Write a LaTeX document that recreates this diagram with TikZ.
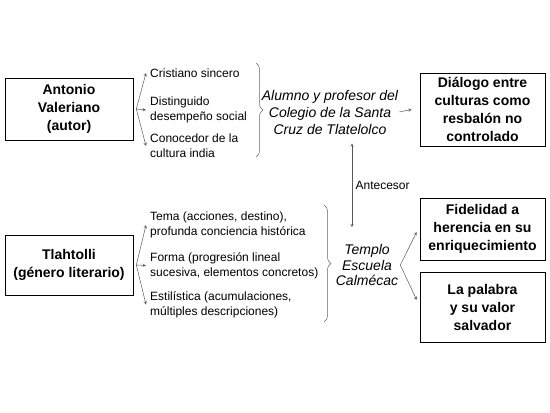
\documentclass[tikz,border=0pt]{standalone}
\usepackage{fontspec}
\setmainfont{Liberation Sans}
\usetikzlibrary{decorations.pathreplacing}

\tikzset{
  caja/.style={draw, line width=0.6pt, align=center, inner sep=0pt,
    minimum width=125pt, font=\fontsize{14}{18}\selectfont\bfseries},
  item/.style={anchor=west, align=left, inner sep=1pt,
    font=\fontsize{12}{15}\selectfont},
  nota/.style={align=center, inner sep=1pt,
    font=\fontsize{14}{17}\selectfont\itshape},
  flecha/.style={->, draw=black!65, line width=0.5pt},
  llave/.style={decorate, decoration={brace, amplitude=7pt}, draw=black!60, line width=0.5pt}
}

\begin{document}
\begin{tikzpicture}[x=1pt, y=-1pt, >=stealth]
        \useasboundingbox (0,0) rectangle (550,413);

        % Boxes
        \node[caja, minimum width=128pt, minimum height=62pt] (antonio) at (69,109) {Antonio\\Valeriano\\(autor)};
        \node[caja, minimum width=128pt, minimum height=60pt] (tlahtolli) at (69,265) {Tlahtolli\\(género literario)};
        \node[caja, minimum height=73pt] (dialogo) at (482.5,109.5) {Diálogo entre\\culturas como\\resbalón no\\controlado};
        \node[caja, minimum height=62pt] (fidelidad) at (482.5,229) {Fidelidad a\\herencia en su\\enriquecimiento};
        \node[caja, minimum height=70pt] (palabra) at (482.5,307) {La palabra\\y su valor\\salvador};

        % Items
        \node[item] (cristiano) at (149,73) {Cristiano sincero};
        \node[item] (distinguido) at (149,110) {Distinguido\\desempeño social};
        \node[item] (conocedor) at (149,146) {Conocedor de la\\cultura india};
        \node[item] (tema) at (149,225) {Tema (acciones, destino),\\profunda conciencia histórica};
        \node[item] (forma) at (149,265.5) {Forma (progresión lineal\\sucesiva, elementos concretos)};
        \node[item] (estilistica) at (149,304.5) {Estilística (acumulaciones,\\múltiples descripciones)};

        % Middle notes
        \node[nota] (alumno) at (330,112) {Alumno y profesor del\\Colegio de la Santa\\Cruz de Tlatelolco};
        \node[nota, font=\fontsize{14}{15.5}\selectfont\itshape] (templo) at (367,265) {Templo\\Escuela\\Calmécac};

        % Fans
        \coordinate (f1) at ([xshift=3pt]antonio.east);
        \coordinate (f2) at ([xshift=3pt]tlahtolli.east);
        \coordinate (f3) at ([xshift=1pt]templo.east);
        \foreach \i in {cristiano, distinguido, conocedor} {
            \draw[flecha] (f1) -- ([xshift=-3pt]\i.west);
        }
        \foreach \i in {tema, forma, estilistica} {
            \draw[flecha] (f2) -- ([xshift=-3pt]\i.west);
        }
        \draw[flecha] (f3) -- ([xshift=-3pt,yshift=-3pt]fidelidad.west);
        \draw[flecha] (f3) -- ([xshift=-3pt,yshift=7pt]palabra.west);

        % Braces
        \draw[llave] (256,63) -- (256,157);
        \draw[llave] (324,205) -- (324,322);

        \draw[flecha] (alumno.east) -- ([xshift=-8pt]dialogo.west);
        \draw[flecha, <->] ([xshift=22pt,yshift=-8pt]alumno.south) -- ([xshift=-15pt,yshift=16pt]templo.north)
            node[pos=0.5, right, font=\fontsize{12}{15}\selectfont] (antecesor) {Antecesor};
    \end{tikzpicture}
\end{document}
